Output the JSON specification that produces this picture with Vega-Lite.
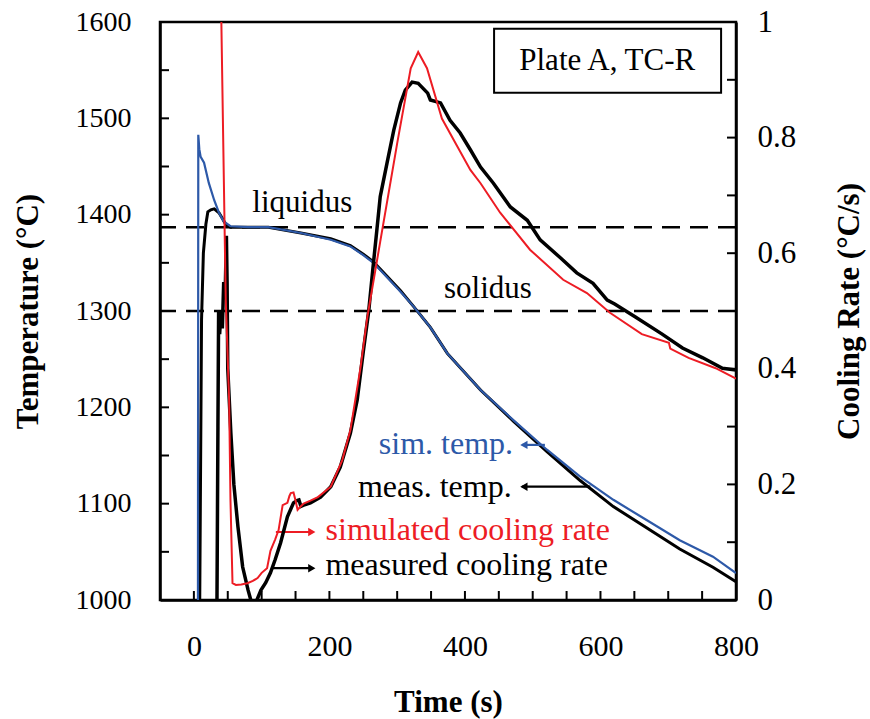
{
  "$schema": "https://vega.github.io/schema/vega-lite/v6.json",
  "width": 576,
  "height": 578,
  "autosize": {"type": "none"},
  "padding": {"left": 160, "top": 22, "right": 134, "bottom": 119},
  "background": "white",
  "config": {
    "font": "Liberation Serif",
    "view": {"stroke": "black", "strokeWidth": 2.5},
    "axis": {
      "domainColor": "black", "domainWidth": 2.5,
      "ticks": false,
      "labelColor": "black", "titleColor": "black",
      "labelFont": "Liberation Serif", "titleFont": "Liberation Serif",
      "titleFontWeight": "bold", "grid": false,
      "labelOverlap": false, "labelFlush": false
    }
  },
  "datasets": {
    "simT": [
      {"t": 6, "T": 985}, {"t": 6.5, "T": 1483}, {"t": 8, "T": 1468}, {"t": 10, "T": 1460},
      {"t": 15, "T": 1454}, {"t": 22, "T": 1433}, {"t": 30, "T": 1415}, {"t": 37, "T": 1402},
      {"t": 44, "T": 1393}, {"t": 54, "T": 1388}, {"t": 80, "T": 1387}, {"t": 110, "T": 1387},
      {"t": 158, "T": 1381}, {"t": 202, "T": 1374}, {"t": 231, "T": 1367}, {"t": 250, "T": 1358},
      {"t": 265, "T": 1350}, {"t": 285, "T": 1335}, {"t": 305, "T": 1320}, {"t": 325, "T": 1304},
      {"t": 349, "T": 1283}, {"t": 374, "T": 1256}, {"t": 423, "T": 1218}, {"t": 471, "T": 1187},
      {"t": 521, "T": 1156}, {"t": 570, "T": 1128}, {"t": 619, "T": 1104}, {"t": 668, "T": 1083},
      {"t": 717, "T": 1062}, {"t": 766, "T": 1045}, {"t": 800, "T": 1028}
    ],
    "measT": [
      {"t": 8.5, "T": 985}, {"t": 11.3, "T": 1291}, {"t": 14, "T": 1360}, {"t": 17.7, "T": 1390},
      {"t": 20.6, "T": 1403}, {"t": 25, "T": 1405}, {"t": 30, "T": 1406}, {"t": 37, "T": 1402},
      {"t": 43, "T": 1395}, {"t": 47, "T": 1390}, {"t": 54, "T": 1387}, {"t": 80, "T": 1387},
      {"t": 110, "T": 1387}, {"t": 158, "T": 1381}, {"t": 202, "T": 1375}, {"t": 231, "T": 1368},
      {"t": 250, "T": 1359}, {"t": 265, "T": 1351}, {"t": 285, "T": 1336}, {"t": 305, "T": 1321},
      {"t": 325, "T": 1304}, {"t": 349, "T": 1283}, {"t": 374, "T": 1256}, {"t": 423, "T": 1218},
      {"t": 471, "T": 1186}, {"t": 521, "T": 1154}, {"t": 570, "T": 1124}, {"t": 619, "T": 1097},
      {"t": 668, "T": 1075}, {"t": 717, "T": 1053}, {"t": 766, "T": 1034}, {"t": 800, "T": 1019}
    ],
    "simR": [
      {"t": 40, "r": 1.04}, {"t": 47, "r": 0.52}, {"t": 52, "r": 0.346}, {"t": 54, "r": 0.173},
      {"t": 57, "r": 0.029}, {"t": 62, "r": 0.026}, {"t": 70, "r": 0.027}, {"t": 79, "r": 0.029},
      {"t": 87, "r": 0.033}, {"t": 94, "r": 0.038}, {"t": 100, "r": 0.047}, {"t": 108, "r": 0.055},
      {"t": 113, "r": 0.085}, {"t": 120, "r": 0.105}, {"t": 125, "r": 0.121}, {"t": 129, "r": 0.15},
      {"t": 131, "r": 0.164}, {"t": 138, "r": 0.168}, {"t": 141, "r": 0.18}, {"t": 143, "r": 0.185},
      {"t": 147, "r": 0.186}, {"t": 150, "r": 0.172}, {"t": 153, "r": 0.156}, {"t": 156, "r": 0.16},
      {"t": 162, "r": 0.167}, {"t": 172, "r": 0.172}, {"t": 183, "r": 0.178}, {"t": 202, "r": 0.196},
      {"t": 219, "r": 0.242}, {"t": 231, "r": 0.294}, {"t": 246, "r": 0.403}, {"t": 256, "r": 0.49},
      {"t": 275, "r": 0.62}, {"t": 300, "r": 0.79}, {"t": 320, "r": 0.92}, {"t": 331, "r": 0.948},
      {"t": 344, "r": 0.92}, {"t": 366, "r": 0.833}, {"t": 389, "r": 0.784}, {"t": 408, "r": 0.744},
      {"t": 423, "r": 0.721}, {"t": 452, "r": 0.67}, {"t": 496, "r": 0.606}, {"t": 545, "r": 0.554},
      {"t": 580, "r": 0.531}, {"t": 614, "r": 0.497}, {"t": 661, "r": 0.46}, {"t": 701, "r": 0.445},
      {"t": 703, "r": 0.435}, {"t": 730, "r": 0.419}, {"t": 770, "r": 0.401}, {"t": 800, "r": 0.383}
    ],
    "measR": [
      {"t": 34, "r": -0.02}, {"t": 35.5, "r": 0.3}, {"t": 36.5, "r": 0.5}, {"t": 38, "r": 0.46},
      {"t": 40, "r": 0.5}, {"t": 42, "r": 0.47}, {"t": 44, "r": 0.55}, {"t": 46, "r": 0.52},
      {"t": 48, "r": 0.63}, {"t": 49, "r": 0.55}, {"t": 50, "r": 0.4}, {"t": 54.5, "r": 0.29},
      {"t": 59, "r": 0.2}, {"t": 65, "r": 0.127}, {"t": 72, "r": 0.057}, {"t": 80, "r": 0.017},
      {"t": 84, "r": 0.0}, {"t": 88, "r": -0.012}, {"t": 93, "r": 0.0}, {"t": 99, "r": 0.017},
      {"t": 106, "r": 0.03}, {"t": 113, "r": 0.047}, {"t": 120, "r": 0.07}, {"t": 128, "r": 0.099},
      {"t": 138, "r": 0.144}, {"t": 147, "r": 0.168}, {"t": 152, "r": 0.172}, {"t": 155, "r": 0.173},
      {"t": 158, "r": 0.162}, {"t": 162, "r": 0.164}, {"t": 172, "r": 0.168}, {"t": 187, "r": 0.178},
      {"t": 202, "r": 0.196}, {"t": 216, "r": 0.23}, {"t": 231, "r": 0.289}, {"t": 241, "r": 0.346},
      {"t": 250, "r": 0.43}, {"t": 258, "r": 0.5}, {"t": 265, "r": 0.583}, {"t": 270, "r": 0.64},
      {"t": 275, "r": 0.698}, {"t": 285, "r": 0.756}, {"t": 295, "r": 0.813}, {"t": 305, "r": 0.86},
      {"t": 312, "r": 0.882}, {"t": 322, "r": 0.896}, {"t": 331, "r": 0.894}, {"t": 345, "r": 0.877},
      {"t": 349, "r": 0.865}, {"t": 364, "r": 0.86}, {"t": 378, "r": 0.83}, {"t": 393, "r": 0.808},
      {"t": 408, "r": 0.779}, {"t": 423, "r": 0.749}, {"t": 442, "r": 0.721}, {"t": 467, "r": 0.68},
      {"t": 492, "r": 0.657}, {"t": 511, "r": 0.623}, {"t": 540, "r": 0.593}, {"t": 565, "r": 0.566},
      {"t": 589, "r": 0.548}, {"t": 610, "r": 0.519}, {"t": 621, "r": 0.512}, {"t": 651, "r": 0.49},
      {"t": 691, "r": 0.46}, {"t": 721, "r": 0.436}, {"t": 751, "r": 0.419}, {"t": 780, "r": 0.401},
      {"t": 800, "r": 0.398}
    ],
    "xticks": [
      {"v": 0}, {"v": 50}, {"v": 100}, {"v": 150}, {"v": 200}, {"v": 250}, {"v": 300}, {"v": 350},
      {"v": 400}, {"v": 450}, {"v": 500}, {"v": 550}, {"v": 600}, {"v": 650}, {"v": 700}, {"v": 750}
    ],
    "yticks": [
      {"v": 1050}, {"v": 1100}, {"v": 1150}, {"v": 1200}, {"v": 1250}, {"v": 1300}, {"v": 1350},
      {"v": 1400}, {"v": 1450}, {"v": 1500}, {"v": 1550}
    ],
    "rticks": [
      {"v": 0.1}, {"v": 0.2}, {"v": 0.3}, {"v": 0.4}, {"v": 0.5}, {"v": 0.6}, {"v": 0.7}, {"v": 0.8}, {"v": 0.9}
    ]
  },
  "layer": [
    {
      "layer": [
        {
          "data": {"values": [{"v": 1387}, {"v": 1300}]},
          "mark": {"type": "rule", "stroke": "black", "strokeWidth": 2.5, "strokeDash": [18, 10]},
          "encoding": {"y": {"field": "v", "type": "quantitative"}}
        },
        {
          "data": {"name": "xticks"},
          "mark": {"type": "tick", "orient": "vertical", "color": "black", "thickness": 2, "size": 18, "clip": true, "opacity": 1},
          "encoding": {
            "x": {"field": "v", "type": "quantitative"},
            "y": {"datum": 1000, "type": "quantitative"}
          }
        },
        {
          "data": {"name": "yticks"},
          "mark": {"type": "tick", "orient": "horizontal", "color": "black", "thickness": 2, "size": 18, "clip": true, "opacity": 1},
          "encoding": {
            "y": {"field": "v", "type": "quantitative"},
            "x": {"datum": -50, "type": "quantitative"}
          }
        },
        {
          "data": {"name": "measT"},
          "mark": {"type": "line", "color": "black", "strokeWidth": 3, "clip": true},
          "encoding": {
            "x": {
              "field": "t", "type": "quantitative",
              "scale": {"domain": [-50, 800], "nice": false, "zero": false},
              "axis": {
                "title": "Time (s)", "titleFontSize": 31, "titlePadding": 26,
                "values": [0, 200, 400, 600, 800],
                "format": "d",
                "labelFontSize": 30, "labelPadding": 31
              }
            },
            "y": {
              "field": "T", "type": "quantitative",
              "scale": {"domain": [1000, 1600], "nice": false, "zero": false},
              "axis": {
                "orient": "left",
                "title": "Temperature (°C)", "titleFontSize": 31, "titlePadding": 31,
                "values": [1000, 1100, 1200, 1300, 1400, 1500, 1600],
                "format": "d",
                "labelFontSize": 28, "labelPadding": 29
              }
            }
          }
        },
        {
          "data": {"name": "simT"},
          "mark": {"type": "line", "color": "#2D59A8", "strokeWidth": 2.2, "clip": true},
          "encoding": {
            "x": {"field": "t", "type": "quantitative", "scale": {"domain": [-50, 800], "nice": false, "zero": false}},
            "y": {"field": "T", "type": "quantitative", "scale": {"domain": [1000, 1600], "nice": false, "zero": false}}
          }
        },
        {
          "data": {"values": [
            {"t": 160, "T": 1403, "label": "liquidus"},
            {"t": 434, "T": 1314, "label": "solidus"}
          ]},
          "mark": {"type": "text", "fontSize": 31, "align": "center", "baseline": "alphabetic", "color": "black"},
          "encoding": {
            "x": {"field": "t", "type": "quantitative"},
            "y": {"field": "T", "type": "quantitative"},
            "text": {"field": "label"}
          }
        },
        {
          "data": {"values": [
            {"t": 471, "T": 1152, "label": "sim. temp."}
          ]},
          "mark": {"type": "text", "fontSize": 32, "align": "right", "baseline": "alphabetic", "color": "#2D59A8"},
          "encoding": {
            "x": {"field": "t", "type": "quantitative"},
            "y": {"field": "T", "type": "quantitative"},
            "text": {"field": "label"}
          }
        },
        {
          "data": {"values": [
            {"t": 469, "T": 1107, "label": "meas. temp."},
            {"t": 611, "T": 1026, "label": "measured cooling rate"}
          ]},
          "mark": {"type": "text", "fontSize": 32, "align": "right", "baseline": "alphabetic", "color": "black"},
          "encoding": {
            "x": {"field": "t", "type": "quantitative"},
            "y": {"field": "T", "type": "quantitative"},
            "text": {"field": "label"}
          }
        },
        {
          "data": {"values": [
            {"t": 614, "T": 1062, "label": "simulated cooling rate"}
          ]},
          "mark": {"type": "text", "fontSize": 32, "align": "right", "baseline": "alphabetic", "color": "#ED1C24"},
          "encoding": {
            "x": {"field": "t", "type": "quantitative"},
            "y": {"field": "T", "type": "quantitative"},
            "text": {"field": "label"}
          }
        },
        {
          "data": {"values": [
            {"t1": 484, "t2": 518, "T": 1161, "c": "sim"},
            {"t1": 484, "t2": 585, "T": 1117.6, "c": "meas"},
            {"t1": 121, "t2": 176, "T": 1070.6, "c": "simr"},
            {"t1": 116, "t2": 176, "T": 1033, "c": "measr"}
          ]},
          "mark": {"type": "rule", "strokeWidth": 2.2},
          "encoding": {
            "x": {"field": "t1", "type": "quantitative"},
            "x2": {"field": "t2"},
            "y": {"field": "T", "type": "quantitative"},
            "color": {"field": "c", "type": "nominal", "legend": null,
              "scale": {"domain": ["sim", "meas", "simr", "measr"], "range": ["#2D59A8", "black", "#ED1C24", "black"]}}
          }
        },
        {
          "data": {"values": [
            {"t": 487, "T": 1161, "c": "sim"},
            {"t": 487, "T": 1117.6, "c": "meas"}
          ]},
          "mark": {"type": "point", "shape": "triangle-left", "filled": true, "size": 70, "opacity": 1},
          "encoding": {
            "x": {"field": "t", "type": "quantitative"},
            "y": {"field": "T", "type": "quantitative"},
            "color": {"field": "c", "type": "nominal", "legend": null,
              "scale": {"domain": ["sim", "meas", "simr", "measr"], "range": ["#2D59A8", "black", "#ED1C24", "black"]}}
          }
        },
        {
          "data": {"values": [
            {"t": 174, "T": 1070.6, "c": "simr"},
            {"t": 174, "T": 1033, "c": "measr"}
          ]},
          "mark": {"type": "point", "shape": "triangle-right", "filled": true, "size": 70, "opacity": 1},
          "encoding": {
            "x": {"field": "t", "type": "quantitative"},
            "y": {"field": "T", "type": "quantitative"},
            "color": {"field": "c", "type": "nominal", "legend": null,
              "scale": {"domain": ["sim", "meas", "simr", "measr"], "range": ["#2D59A8", "black", "#ED1C24", "black"]}}
          }
        },
        {
          "data": {"values": [{"label": "Plate A, TC-R"}]},
          "mark": {"type": "rect", "fill": "white", "stroke": "black", "strokeWidth": 2},
          "encoding": {
            "x": {"datum": 443, "type": "quantitative"},
            "x2": {"datum": 778},
            "y": {"datum": 1526.5, "type": "quantitative"},
            "y2": {"datum": 1593}
          }
        },
        {
          "data": {"values": [{"label": "Plate A, TC-R"}]},
          "mark": {"type": "text", "fontSize": 31, "align": "center", "baseline": "alphabetic", "color": "black"},
          "encoding": {
            "x": {"datum": 610, "type": "quantitative"},
            "y": {"datum": 1550, "type": "quantitative"},
            "text": {"field": "label"}
          }
        }
      ]
    },
    {
      "layer": [
        {
          "data": {"name": "rticks"},
          "mark": {"type": "tick", "orient": "horizontal", "color": "black", "thickness": 2, "size": 18, "clip": true, "opacity": 1},
          "encoding": {
            "y": {"field": "v", "type": "quantitative", "scale": {"domain": [0, 1], "nice": false, "zero": false}},
            "x": {"datum": 800, "type": "quantitative"}
          }
        },
        {
          "data": {"name": "measR"},
          "mark": {"type": "line", "color": "black", "strokeWidth": 3.5, "clip": true},
          "encoding": {
            "x": {"field": "t", "type": "quantitative", "scale": {"domain": [-50, 800], "nice": false, "zero": false}},
            "y": {
              "field": "r", "type": "quantitative",
              "scale": {"domain": [0, 1], "nice": false, "zero": false},
              "axis": {
                "orient": "right",
                "title": "Cooling Rate (°C/s)", "titleFontSize": 31, "titleAngle": -90, "titlePadding": 70,
                "values": [0, 0.2, 0.4, 0.6, 0.8, 1],
                "format": "~g",
                "labelFontSize": 31, "labelPadding": 21
              }
            }
          }
        },
        {
          "data": {"name": "simR"},
          "mark": {"type": "line", "color": "#ED1C24", "strokeWidth": 2, "clip": true},
          "encoding": {
            "x": {"field": "t", "type": "quantitative", "scale": {"domain": [-50, 800], "nice": false, "zero": false}},
            "y": {"field": "r", "type": "quantitative", "scale": {"domain": [0, 1], "nice": false, "zero": false}}
          }
        }
      ]
    }
  ],
  "resolve": {"scale": {"y": "independent"}}
}
